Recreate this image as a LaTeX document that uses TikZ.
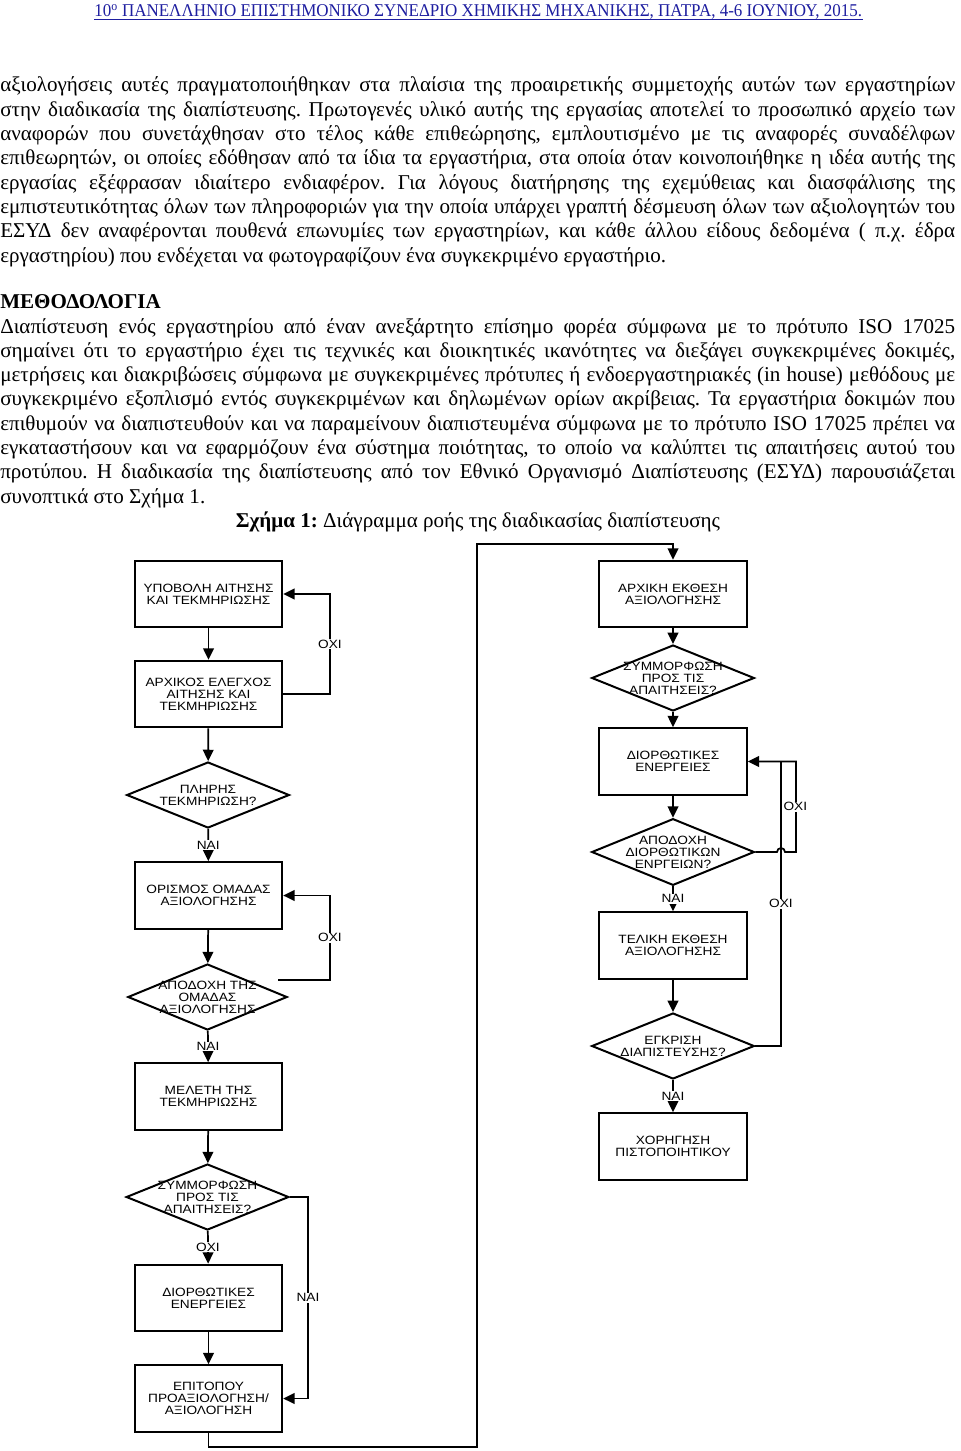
\documentclass[tikz,border=0pt]{standalone}
\usepackage{fontspec}
\usepackage{graphicx}
\setmainfont{Liberation Serif}
\newfontfamily\flowfont[FakeStretch=1.14]{Liberation Sans}
\usetikzlibrary{shapes.geometric,arrows.meta,calc}
\definecolor{hdrblue}{RGB}{30,30,160}
\frenchspacing
\newcommand\jl[1]{\makebox[716.25pt][s]{#1}}
\newcommand\ffont{\flowfont\fontsize{9pt}{9pt}\selectfont}
\begin{document}
\begin{tikzpicture}[x=0.75pt,y=-0.75pt,
  box/.style={draw,line width=1.5pt,minimum width=110.5pt,minimum height=50pt,inner sep=0,align=center,font=\ffont},
  dia/.style={draw,diamond,line width=1.5pt,minimum width=122pt,minimum height=49.5pt,inner sep=0},
  dtext/.style={align=center,font=\ffont,inner sep=0},
  lab/.style={fill=white,inner sep=0.6pt,font=\ffont},
  conn/.style={line width=1.3pt},
  arr/.style={conn,-{Triangle[length=8.5pt,width=8pt]}},
  txt/.style={anchor=base west,inner sep=0,font=\fontsize{15.8pt}{18pt}\selectfont},
]
\useasboundingbox[fill=white] (0,0) rectangle (960,1451);

% header
\node[anchor=base west,inner sep=0,text=hdrblue] (hdr) at (94,17)
  {\resizebox{576pt}{\height}{\fontsize{13.5pt}{15pt}\selectfont 10\textsuperscript{ο} ΠΑΝΕΛΛΗΝΙΟ ΕΠΙΣΤΗΜΟΝΙΚΟ ΣΥΝΕΔΡΙΟ ΧΗΜΙΚΗΣ ΜΗΧΑΝΙΚΗΣ, ΠΑΤΡΑ, 4-6 ΙΟΥΝΙΟΥ, 2015.}};
\draw[hdrblue,line width=0.8pt] ($(hdr.base west)+(0,2.5)$) -- ($(hdr.base east)+(0,2.5)$);

% paragraph 1
\node[txt] (a1) at (0,92) {\jl{αξιολογήσεις αυτές πραγματοποιήθηκαν στα πλαίσια της προαιρετικής συμμετοχής αυτών των εργαστηρίων}};
\node[txt] (a2) at (0,116.3) {\jl{στην διαδικασία της διαπίστευσης. Πρωτογενές υλικό αυτής της εργασίας αποτελεί το προσωπικό αρχείο των}};
\node[txt] (a3) at (0,140.6) {\jl{αναφορών που συνετάχθησαν στο τέλος κάθε επιθεώρησης, εμπλουτισμένο με τις αναφορές συναδέλφων}};
\node[txt] (a4) at (0,164.9) {\jl{επιθεωρητών, οι οποίες εδόθησαν από τα ίδια τα εργαστήρια, στα οποία όταν κοινοποιήθηκε η ιδέα αυτής της}};
\node[txt] (a5) at (0,189.2) {\jl{εργασίας εξέφρασαν ιδιαίτερο ενδιαφέρον. Για λόγους διατήρησης της εχεμύθειας και διασφάλισης της}};
\node[txt] (a6) at (0,213.5) {\jl{εμπιστευτικότητας όλων των πληροφοριών για την οποία υπάρχει γραπτή δέσμευση όλων των αξιολογητών του}};
\node[txt] (a7) at (0,237.8) {\jl{ΕΣΥΔ δεν αναφέρονται πουθενά επωνυμίες των εργαστηρίων, και κάθε άλλου είδους δεδομένα ( π.χ. έδρα}};
\node[txt] (a8) at (0,262.1) {εργαστηρίου) που ενδέχεται να φωτογραφίζουν ένα συγκεκριμένο εργαστήριο.};

\node[txt] (hd) at (0,309) {\bfseries ΜΕΘΟΔΟΛΟΓΙΑ};

% paragraph 2
\node[txt] (m1) at (0,333) {\jl{Διαπίστευση ενός εργαστηρίου από έναν ανεξάρτητο επίσημο φορέα σύμφωνα με το πρότυπο ISO 17025}};
\node[txt] (m2) at (0,357.3) {\jl{σημαίνει ότι το εργαστήριο έχει τις τεχνικές και διοικητικές ικανότητες να διεξάγει συγκεκριμένες δοκιμές,}};
\node[txt] (m3) at (0,381.6) {\jl{μετρήσεις και διακριβώσεις σύμφωνα με συγκεκριμένες πρότυπες ή ενδοεργαστηριακές (in house) μεθόδους με}};
\node[txt] (m4) at (0,405.9) {\jl{συγκεκριμένο εξοπλισμό εντός συγκεκριμένων και δηλωμένων ορίων ακρίβειας. Τα εργαστήρια δοκιμών που}};
\node[txt] (m5) at (0,430.2) {\jl{επιθυμούν να διαπιστευθούν και να παραμείνουν διαπιστευμένα σύμφωνα με το πρότυπο ISO 17025 πρέπει να}};
\node[txt] (m6) at (0,454.5) {\jl{εγκαταστήσουν και να εφαρμόζουν ένα σύστημα ποιότητας, το οποίο να καλύπτει τις απαιτήσεις αυτού του}};
\node[txt] (m7) at (0,478.8) {\jl{προτύπου. Η διαδικασία της διαπίστευσης από τον Εθνικό Οργανισμό Διαπίστευσης (ΕΣΥΔ) παρουσιάζεται}};
\node[txt] (m8) at (0,503.1) {συνοπτικά στο Σχήμα 1.};

\node[txt,anchor=base] (cap) at (478,527) {\textbf{Σχήμα 1:} Διάγραμμα ροής της διαδικασίας διαπίστευσης};

% left column
\node[box] (b1) at (208.5,594) {ΥΠΟΒΟΛΗ ΑΙΤΗΣΗΣ\\ΚΑΙ ΤΕΚΜΗΡΙΩΣΗΣ};
\node[box] (b2) at (208.5,694) {ΑΡΧΙΚΟΣ ΕΛΕΓΧΟΣ\\ΑΙΤΗΣΗΣ ΚΑΙ\\ΤΕΚΜΗΡΙΩΣΗΣ};
\node[dia] (d1) at (208,795) [label={[dtext]center:{ΠΛΗΡΗΣ\\ΤΕΚΜΗΡΙΩΣΗ?}}] {};
\node[box] (b3) at (208.5,895.5) {ΟΡΙΣΜΟΣ ΟΜΑΔΑΣ\\ΑΞΙΟΛΟΓΗΣΗΣ};
\node[dia,minimum width=119.5pt] (d2) at (207.5,997) [label={[dtext]center:{ΑΠΟΔΟΧΗ ΤΗΣ\\ΟΜΑΔΑΣ\\ΑΞΙΟΛΟΓΗΣΗΣ}}] {};
\node[box] (b4) at (208.5,1096.5) {ΜΕΛΕΤΗ ΤΗΣ\\ΤΕΚΜΗΡΙΩΣΗΣ};
\node[dia] (d3) at (207.5,1197) [label={[dtext]center:{ΣΥΜΜΟΡΦΩΣΗ\\ΠΡΟΣ ΤΙΣ\\ΑΠΑΙΤΗΣΕΙΣ?}}] {};
\node[box] (b5) at (208.5,1298) {ΔΙΟΡΘΩΤΙΚΕΣ\\ΕΝΕΡΓΕΙΕΣ};
\node[box] (b6) at (208.5,1398.5) {ΕΠΙΤΟΠΟΥ\\ΠΡΟΑΞΙΟΛΟΓΗΣΗ/\\ΑΞΙΟΛΟΓΗΣΗ};

% right column
\node[box] (r1) at (673,594) {ΑΡΧΙΚΗ ΕΚΘΕΣΗ\\ΑΞΙΟΛΟΓΗΣΗΣ};
\node[dia] (e1) at (673,678) [label={[dtext]center:{ΣΥΜΜΟΡΦΩΣΗ\\ΠΡΟΣ ΤΙΣ\\ΑΠΑΙΤΗΣΕΙΣ?}}] {};
\node[box] (r2) at (673,761.5) {ΔΙΟΡΘΩΤΙΚΕΣ\\ΕΝΕΡΓΕΙΕΣ};
\node[dia,minimum height=50pt] (e2) at (673,852) [label={[dtext]center:{ΑΠΟΔΟΧΗ\\ΔΙΟΡΘΩΤΙΚΩΝ\\ΕΝΡΓΕΙΩΝ?}}] {};
\node[box] (r3) at (673,945.5) {ΤΕΛΙΚΗ ΕΚΘΕΣΗ\\ΑΞΙΟΛΟΓΗΣΗΣ};
\node[dia] (e3) at (673,1046) [label={[dtext]center:{ΕΓΚΡΙΣΗ\\ΔΙΑΠΙΣΤΕΥΣΗΣ?}}] {};
\node[box] (r4) at (673,1146.5) {ΧΟΡΗΓΗΣΗ\\ΠΙΣΤΟΠΟΙΗΤΙΚΟΥ};

% corner coordinates
\coordinate (k1) at (308,1197);
\coordinate (k2) at (308,1398.5);
\coordinate (k3) at (330,694);
\coordinate (k4) at (330,594);
\coordinate (k5) at (278,980);
\coordinate (k6) at (330,980);
\coordinate (k7) at (330,895.5);
\coordinate (k8) at (208.5,1447);
\coordinate (k9) at (477,1447);
\coordinate (k10) at (477,544);
\coordinate (k11) at (673,544);
\coordinate (h1) at (777,852);
\coordinate (k12) at (796,852);
\coordinate (k13) at (796,761.5);
\coordinate (k14) at (781,1046);
\coordinate (k15) at (781,761.5);

% left connectors
\draw[arr] (b1) -- (b2);
\draw[arr] (b2) -- (d1);
\draw[arr] (d1) -- node[lab]{ΝΑΙ} (b3);
\draw[arr] (b3) -- (d2);
\draw[arr] (d2) -- node[lab]{ΝΑΙ} (b4);
\draw[arr] (b4) -- (d3);
\draw[arr] (d3) -- node[lab]{ΟΧΙ} (b5);
\draw[arr] (b5) -- (b6);
\draw[arr] (d3.east) -- (k1) -- node[lab]{ΝΑΙ} (k2) -- (b6.east);
\draw[arr] (b2.east) -- (k3) -- node[lab]{ΟΧΙ} (k4) -- (b1.east);
\draw[arr] (k5) -- (k6) -- node[lab]{ΟΧΙ} (k7) -- (b3.east);
\draw[arr] (b6.south) -- (k8) -- (k9) -- (k10) -- (k11) -- (r1.north);

% right connectors
\draw[arr] (r1) -- (e1);
\draw[arr] (e1) -- (r2);
\draw[arr] (r2) -- (e2);
\draw[arr] (e2) -- node[lab]{ΝΑΙ} (r3);
\draw[arr] (r3) -- (e3);
\draw[arr] (e3) -- node[lab]{ΝΑΙ} (r4);
\draw[arr] (e2.east) -- (h1) arc(180:360:4) -- (k12) -- node[lab,xshift=-0.5pt]{ΟΧΙ} (k13) -- (r2.east);
\draw[conn] (e3.east) -- (k14) -- node[lab]{ΟΧΙ} (k15);
\end{tikzpicture}
\end{document}
